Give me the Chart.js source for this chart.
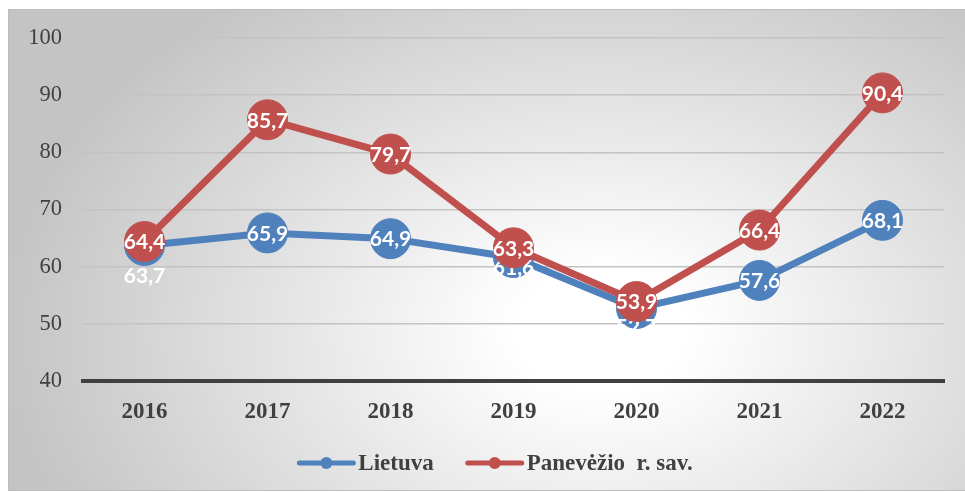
<!DOCTYPE html>
<html>
<head>
<meta charset="utf-8">
<script src="https://cdn.jsdelivr.net/npm/chart.js@4.4.1/dist/chart.umd.min.js"></script>
<style>
  html, body { margin: 0; padding: 0; background: #ffffff; width: 965px; height: 492px; overflow: hidden; }
  #frame {
    position: absolute; left: 8px; top: 9px; width: 965px; height: 480px;
    border: 1px solid #bdbdbd;
    background: radial-gradient(ellipse 600px 420px at 592px 321px, #ffffff 0%, #ffffff 14%, #c4c4c4 100%);
  }
  #c { position: absolute; left: 0; top: 0; }
</style>
</head>
<body>
<div id="frame"></div>
<canvas id="c" width="965" height="492"></canvas>
<script>
// ---- data ----
const years = ['2016', '2017', '2018', '2019', '2020', '2021', '2022'];
const lietuva = [63.7, 65.9, 64.9, 61.6, 52.7, 57.6, 68.1];
const panevezio = [64.4, 85.7, 79.7, 63.3, 53.9, 66.4, 90.4];
const seriesNames = ['Lietuva', 'Panevėžio  r. sav.'];
const yTicks = [40, 50, 60, 70, 80, 90, 100];

const BLUE = '#4F81BD';
const RED = '#C0504D';
const SERIF = "'Liberation Serif', 'Times New Roman', serif";

const valueLabels = {
  id: 'valueLabels',
  afterDatasetDraw(chart, args, opts) {
    const ds = chart.data.datasets[args.index];
    const shifts = (opts.shifts && opts.shifts[args.index]) || [];
    const ctx = chart.ctx;
    ctx.save();
    ctx.font = "bold 21px Lato, 'Open Sans', sans-serif";
    ctx.fillStyle = '#ffffff';
    ctx.textAlign = 'center';
    ctx.textBaseline = 'middle';
    args.meta.data.forEach((pt, i) => {
      const txt = String(ds.data[i]).replace('.', ',');
      ctx.fillText(txt, pt.x, pt.y + 1 + (shifts[i] || 0));
    });
    ctx.restore();
  }
};

const lineLegend = {
  id: 'lineLegend',
  afterDraw(chart, args, opts) {
    const ctx = chart.ctx;
    ctx.save();
    ctx.font = 'bold 23px ' + SERIF;
    ctx.textBaseline = 'middle';
    ctx.textAlign = 'left';
    const items = chart.data.datasets.map(ds => ({
      text: ds.label, color: ds.borderColor, w: ctx.measureText(ds.label).width
    }));
    const total = items.reduce((s, it) => s + opts.iconWidth + opts.gap + it.w, 0) + opts.spacing * (items.length - 1);
    let x = opts.centerX - total / 2;
    const y = opts.y;
    items.forEach(it => {
      ctx.strokeStyle = it.color; ctx.lineWidth = 5; ctx.lineCap = 'round';
      ctx.beginPath(); ctx.moveTo(x + 2, y); ctx.lineTo(x + opts.iconWidth - 2, y); ctx.stroke();
      ctx.fillStyle = it.color;
      ctx.beginPath(); ctx.arc(x + opts.iconWidth / 2, y, 6, 0, Math.PI * 2); ctx.fill();
      ctx.fillStyle = '#404040';
      ctx.fillText(it.text, x + opts.iconWidth + opts.gap, y + 1);
      x += opts.iconWidth + opts.gap + it.w + opts.spacing;
    });
    ctx.restore();
  }
};

new Chart(document.getElementById('c'), {
  type: 'line',
  data: {
    labels: years,
    datasets: [
      {
        label: seriesNames[0], data: lietuva, order: 1,
        borderColor: BLUE, backgroundColor: BLUE, borderWidth: 7,
        pointRadius: 20, pointHoverRadius: 20, pointBorderWidth: 1,
        pointBackgroundColor: BLUE, pointBorderColor: BLUE, tension: 0
      },
      {
        label: seriesNames[1], data: panevezio, order: 0,
        borderColor: RED, backgroundColor: RED, borderWidth: 7,
        pointRadius: 20, pointHoverRadius: 20, pointBorderWidth: 1,
        pointBackgroundColor: RED, pointBorderColor: RED, tension: 0
      }
    ]
  },
  options: {
    responsive: false,
    animation: false,
    devicePixelRatio: 1,
    layout: { padding: { left: 0, right: 18, top: 38, bottom: 0 } },
    scales: {
      x: {
        offset: true,
        grid: { display: false, drawTicks: false },
        border: { display: true, color: '#404040', width: 4 },
        ticks: { color: '#404040', font: { family: SERIF, size: 23, weight: 'bold' }, padding: 17 },
        afterFit(s) { s.height = 111; }
      },
      y: {
        min: 40, max: 100,
        afterBuildTicks(s) { s.ticks = yTicks.map(v => ({ value: v })); },
        grid: {
          drawTicks: false, lineWidth: 1.5,
          color: ctx => (ctx.tick && ctx.tick.value === 40) ? 'rgba(0,0,0,0)' : '#c3c3c3'
        },
        border: { display: false },
        ticks: { color: '#404040', font: { family: SERIF, size: 22.5 }, padding: 21 },
        afterFit(s) { s.width = 83; }
      }
    },
    plugins: {
      tooltip: { enabled: false },
      legend: { display: false },
      valueLabels: { shifts: { 0: [30, 0, 0, 10, 18, 0, 0] } },
      lineLegend: { centerX: 495, y: 463, iconWidth: 58, gap: 3, spacing: 32 }
    }
  },
  plugins: [valueLabels, lineLegend]
});
</script>
</body>
</html>
